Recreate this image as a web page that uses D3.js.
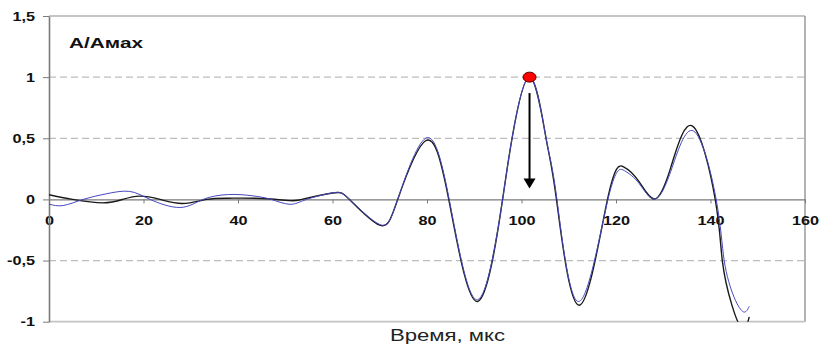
<!DOCTYPE html>
<html>
<head>
<meta charset="utf-8">
<script src="https://cdn.jsdelivr.net/npm/d3@7"></script>
<style>
  html, body { margin: 0; padding: 0; background: #fff; }
  svg { display: block; }
</style>
</head>
<body>
<svg id="chart" width="819" height="345"></svg>
<script>
// ---- data ----
const xTicks = [0, 20, 40, 60, 80, 100, 120, 140, 160];
const yTicks = [-1, -0.5, 0, 0.5, 1, 1.5];
const yTickLabels = ["-1", "-0,5", "0", "0,5", "1", "1,5"];
const gridValues = [-0.5, 0.5, 1];

const blackT = [0, 5, 11.4, 15.6, 19.2, 23.5, 28.3, 33.4, 38, 45, 51, 53.5, 60, 63.6, 70, 73.8, 79.7, 84.6, 90.7, 96, 98, 101.7, 105.2, 107.4, 112.2, 118.2, 121.6, 124.8, 128.1, 131.5, 136.2, 141, 142.5, 144.5, 146.8, 148.2];
const blackV = [0.038, 0, -0.028, 0, 0.027, 0, -0.033, 0, 0.01, 0.008, -0.01, 0, 0.052, 0, -0.21, 0, 0.48, 0, -0.835, 0, 0.5, 1.0, 0.5, 0, -0.865, 0, 0.267, 0.15, 0.003, 0.25, 0.60, 0, -0.5, -0.86, -1.06, -0.96];

const blueT = [0, 3, 7.2, 12, 17, 21.4, 27.7, 32.6, 38, 43, 47, 51, 54.5, 60, 63.6, 70, 73.8, 79.7, 84.7, 90.7, 96, 98, 101.7, 105.2, 107.5, 112.1, 118.3, 121.8, 124.9, 128.1, 131.6, 136.4, 141.2, 142.9, 145, 147.0, 148.2];
const blueV = [-0.038, -0.05, 0, 0.045, 0.066, 0, -0.066, 0, 0.04, 0.03, 0, -0.04, 0, 0.054, 0, -0.205, 0, 0.50, 0, -0.82, 0, 0.5, 1.0, 0.5, 0, -0.835, 0, 0.235, 0.13, 0.003, 0.23, 0.56, 0, -0.5, -0.8, -0.92, -0.875];

const peakT = 101.7, peakV = 1.0;
const arrowFromV = 0.87, arrowToV = 0.09;

const title = "A/Aмах";
const xTitle = "Время, мкс";

// ---- layout ----
const svg = d3.select("#chart");
const x = d3.scaleLinear().domain([0, 160]).range([49, 805]);
const y = d3.scaleLinear().domain([-1, 1.5]).range([321.7, 16]);

const defs = svg.append("defs");
defs.append("clipPath").attr("id", "plotclip")
  .append("rect").attr("x", x(0)).attr("y", y(1.5)).attr("width", x(160) - x(0)).attr("height", y(-1) - y(1.5));

// grid lines
svg.append("g").selectAll("line").data(gridValues).join("line")
  .attr("x1", x(0)).attr("x2", x(160))
  .attr("y1", d => y(d)).attr("y2", d => y(d))
  .attr("stroke", "#bdbdbd").attr("stroke-width", 1.2).attr("stroke-dasharray", "7,4");

// frame: top, right, bottom
svg.append("line").attr("x1", x(0)).attr("x2", x(160)).attr("y1", y(1.5)).attr("y2", y(1.5))
  .attr("stroke", "#8c8c8c").attr("stroke-width", 1.2);
svg.append("line").attr("x1", x(160)).attr("x2", x(160)).attr("y1", y(1.5)).attr("y2", y(-1))
  .attr("stroke", "#9a9a9a").attr("stroke-width", 1.5);
svg.append("line").attr("x1", x(0)).attr("x2", x(160)).attr("y1", y(-1)).attr("y2", y(-1))
  .attr("stroke", "#c4c4c4").attr("stroke-width", 1.8);

// x axis at zero
const xAxis = d3.axisBottom(x).tickValues(xTicks).tickSize(4).tickSizeOuter(0).tickFormat(d3.format("d"));
const gx = svg.append("g").attr("transform", `translate(0,${y(0)})`).call(xAxis);
gx.select(".domain").attr("stroke", "#7a7a7a").attr("stroke-width", 1.2);
gx.selectAll(".tick line").attr("stroke", "#7a7a7a");
gx.selectAll(".tick text")
  .attr("y", 25.5).attr("dy", 0)
  .attr("transform", "scale(1.3,1)")
  .attr("font-family", "'Liberation Sans', Arial, sans-serif")
  .attr("font-weight", "bold").attr("font-size", 12.5).attr("fill", "#111");

// y axis
const yAxis = d3.axisLeft(y).tickValues(yTicks).tickSize(6).tickSizeOuter(0)
  .tickFormat((d, i) => yTickLabels[i]);
const gy = svg.append("g").attr("transform", `translate(${x(0)},0)`).call(yAxis);
gy.select(".domain").attr("stroke", "#7a7a7a").attr("stroke-width", 1.6);
gy.selectAll(".tick line").attr("stroke", "#7a7a7a");
gy.selectAll(".tick text")
  .attr("x", -10.8)
  .attr("transform", "scale(1.3,1)")
  .attr("font-family", "'Liberation Sans', Arial, sans-serif")
  .attr("font-weight", "bold").attr("font-size", 12.5).attr("fill", "#111");

// curves
const line = d3.line().x(d => x(d[0])).y(d => y(d[1])).curve(d3.curveNatural);
const blackData = blackT.map((t, i) => [t, blackV[i]]);
const blueData = blueT.map((t, i) => [t, blueV[i]]);
const curves = svg.append("g").attr("clip-path", "url(#plotclip)");
curves.append("path").datum(blackData).attr("d", line)
  .attr("fill", "none").attr("stroke", "#1a1a1a").attr("stroke-width", 1.4);
curves.append("path").datum(blueData).attr("d", line)
  .attr("fill", "none").attr("stroke", "#4848c0").attr("stroke-width", 1);

// arrow
const ax = x(peakT);
const tipY = y(arrowToV);
svg.append("line").attr("x1", ax).attr("x2", ax).attr("y1", y(arrowFromV)).attr("y2", tipY - 8)
  .attr("stroke", "#000").attr("stroke-width", 2);
svg.append("path")
  .attr("d", `M${ax - 6},${tipY - 10} L${ax + 6},${tipY - 10} L${ax},${tipY} Z`)
  .attr("fill", "#000");

// marker
svg.append("ellipse").attr("cx", x(peakT)).attr("cy", y(peakV)).attr("rx", 6.5).attr("ry", 5)
  .attr("fill", "#ff0000").attr("stroke", "#5a0000").attr("stroke-width", 1);

// titles
svg.append("text").attr("x", 69).attr("y", 48)
  .attr("font-family", "'Liberation Sans', Arial, sans-serif").attr("font-weight", "bold")
  .attr("font-size", 15).attr("fill", "#111")
  .attr("textLength", 74).attr("lengthAdjust", "spacingAndGlyphs")
  .text(title);
svg.append("text").attr("x", 390).attr("y", 341)
  .attr("font-family", "'Liberation Sans', Arial, sans-serif")
  .attr("font-size", 17).attr("fill", "#222")
  .attr("textLength", 115).attr("lengthAdjust", "spacingAndGlyphs")
  .text(xTitle);
</script>
</body>
</html>
